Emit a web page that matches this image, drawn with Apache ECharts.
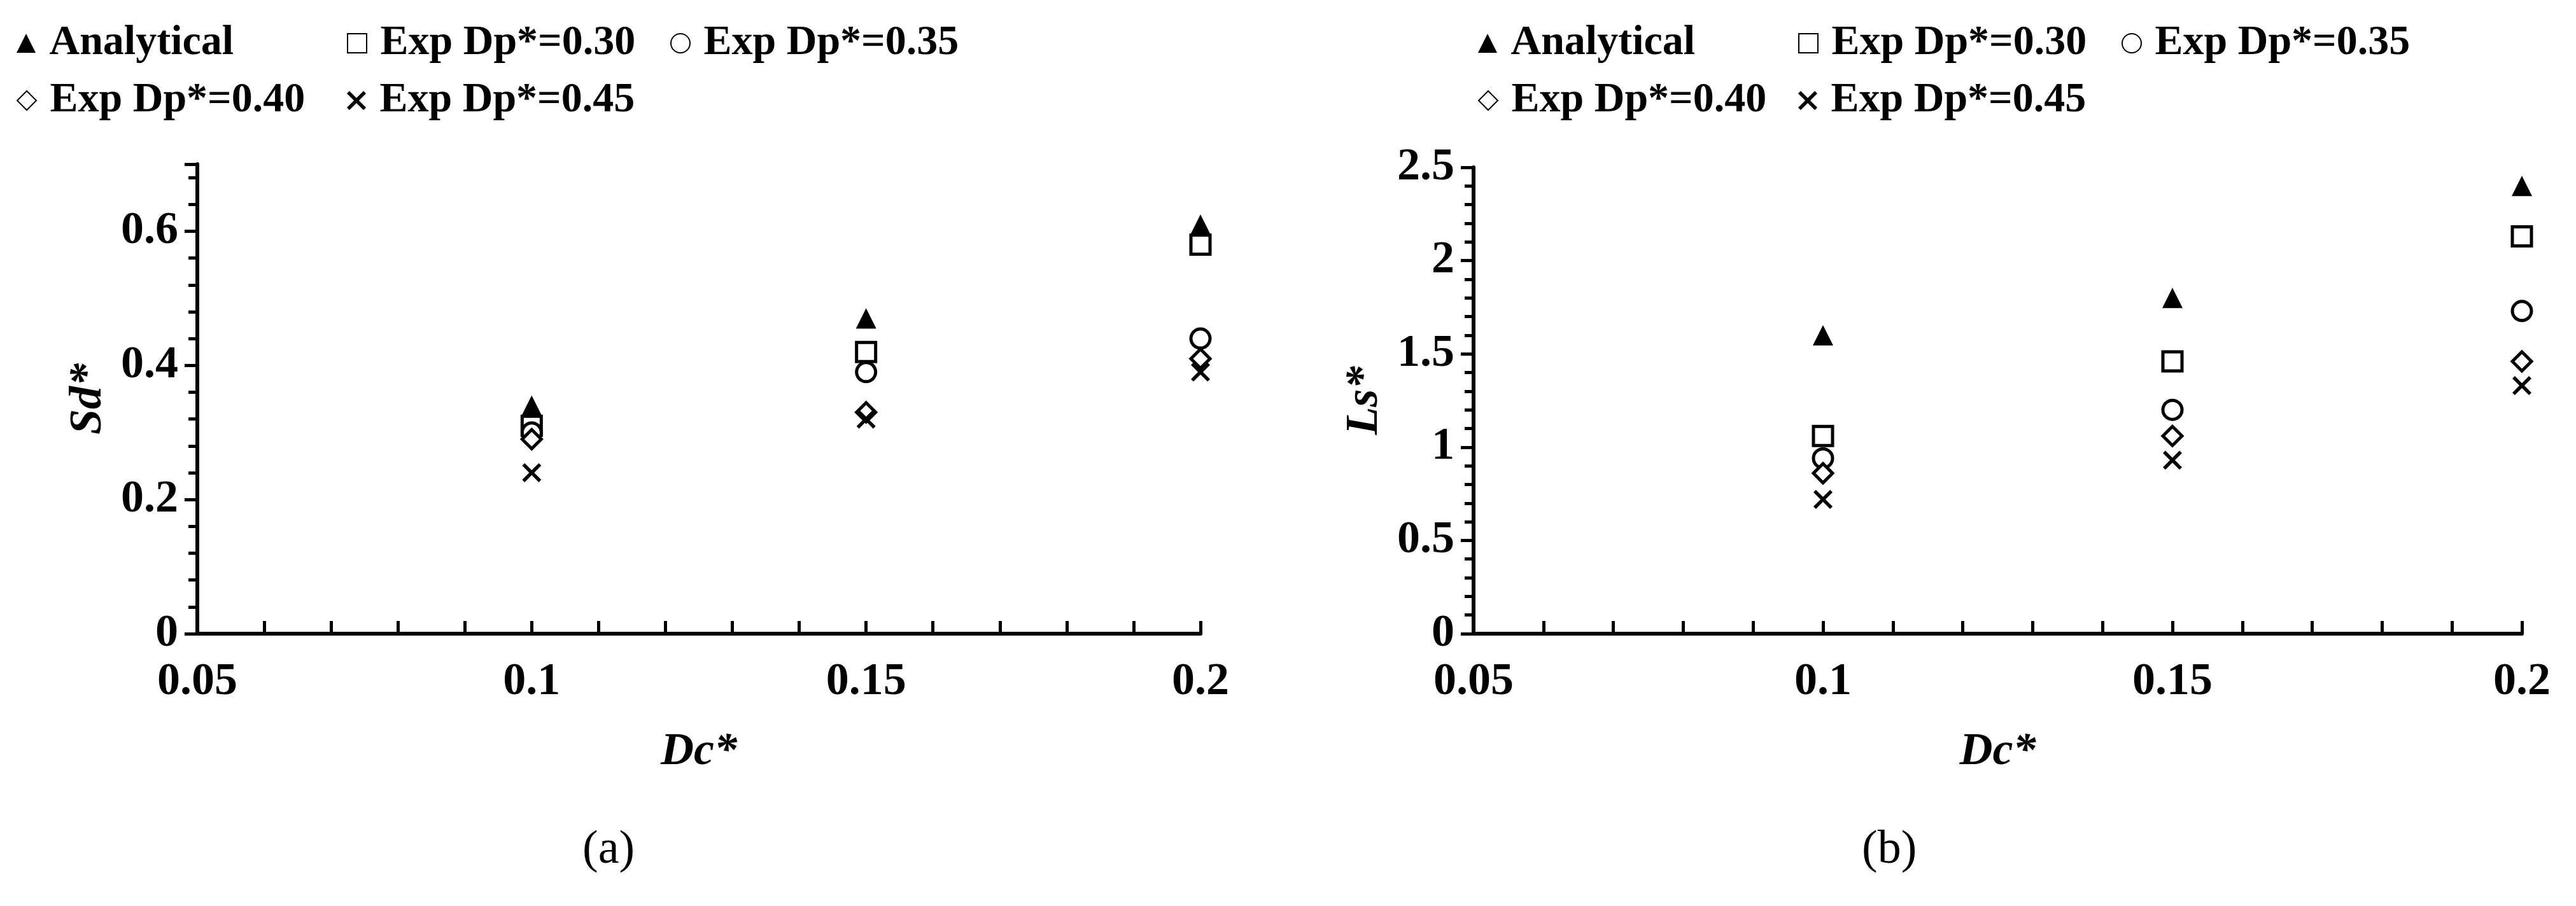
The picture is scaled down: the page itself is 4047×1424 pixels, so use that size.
<!DOCTYPE html>
<html style="height: 100%">
<head>
  <meta charset="utf-8">
  <title>Sd* and Ls* vs Dc*</title>
</head>
<body style="height: 100%; margin: 0; background: #fff">
  <div id="container" style="height: 100%"></div>
  <script src="https://cdn.jsdelivr.net/npm/echarts@6/dist/echarts.min.js"></script>
  <script>
    var dc = [0.1, 0.15, 0.2];
    var seriesNames = ['Analytical', 'Exp Dp*=0.30', 'Exp Dp*=0.35', 'Exp Dp*=0.40', 'Exp Dp*=0.45'];
    // panel (a) Sd*
    var sdAnalytical = [0.34, 0.47, 0.61];
    var sd030 = [0.31, 0.42, 0.58];
    var sd035 = [0.30, 0.39, 0.44];
    var sd040 = [0.29, 0.33, 0.41];
    var sd045 = [0.24, 0.32, 0.39];
    // panel (b) Ls*
    var lsAnalytical = [1.6, 1.8, 2.4];
    var ls030 = [1.06, 1.46, 2.13];
    var ls035 = [0.94, 1.2, 1.73];
    var ls040 = [0.86, 1.06, 1.46];
    var ls045 = [0.72, 0.93, 1.33];

    var font = 'Liberation Serif';
    var cross = 'path://M0,1.3L1.3,0L5,3.7L8.7,0L10,1.3L6.3,5L10,8.7L8.7,10L5,6.3L1.3,10L0,8.7L3.7,5Z';
    var symbols = ['triangle', 'rect', 'circle', 'diamond', cross];
    var fills = ['#000', '#fff', '#fff', '#fff', '#000'];
    var sizes = [32, 30, 30, 30, 30];

    function pairs(ys) {
      return dc.map(function (x, i) { return [x, ys[i]]; });
    }

    var dom = document.getElementById('container');
    var myChart = echarts.init(dom);

    var grids = [
      { left: 310, width: 1576, top: 258, bottom: 428 },
      { left: 2315, width: 1647, top: 263, bottom: 428 }
    ];
    var legendPos = [
      [[21, 30], [540, 30], [1048, 30], [21, 120], [540, 120]],
      [[2317, 30], [2820, 30], [3328, 30], [2317, 120], [2820, 120]]
    ];
    var panels = [
      [sdAnalytical, sd030, sd035, sd040, sd045],
      [lsAnalytical, ls030, ls035, ls040, ls045]
    ];

    var axisLine = { lineStyle: { color: '#000', width: 6 } };
    var labelStyle = { color: '#000', fontFamily: font, fontWeight: 'bold', fontSize: 72 };
    var nameStyle = { color: '#000', fontFamily: font, fontWeight: 'bold', fontStyle: 'italic', fontSize: 72 };

    var xAxes = [0, 1].map(function (g) {
      return {
        gridIndex: g, type: 'value', min: 0.05, max: 0.2, interval: 0.05,
        name: 'Dc*', nameLocation: 'middle', nameGap: 150, nameTextStyle: nameStyle,
        axisLine: axisLine,
        axisTick: { show: true, inside: true, length: 20, lineStyle: { color: '#000', width: 5 } },
        minorTick: { show: true, splitNumber: 5, length: 20, lineStyle: { color: '#000', width: 5 } },
        axisLabel: Object.assign({ margin: 40 }, labelStyle),
        splitLine: { show: false }
      };
    });

    var yAxes = [
      { max: 0.7, interval: 0.2, name: 'Sd*' },
      { max: 2.5, interval: 0.5, name: 'Ls*' }
    ].map(function (c, g) {
      return {
        gridIndex: g, type: 'value', min: 0, max: c.max, interval: c.interval,
        name: c.name, nameLocation: 'middle', nameGap: 135, nameRotate: 90, nameTextStyle: nameStyle,
        axisLine: axisLine,
        axisTick: { show: true, length: 20, lineStyle: { color: '#000', width: 5 } },
        minorTick: { show: true, splitNumber: 5, length: 14, lineStyle: { color: '#000', width: 5 } },
        axisLabel: Object.assign({ margin: 30, showMaxLabel: g === 1 }, labelStyle),
        splitLine: { show: false }
      };
    });

    var legends = [];
    var series = [];
    [0, 1].forEach(function (g) {
      seriesNames.forEach(function (name, k) {
        var id = name + (g ? ' ' : '');
        legends.push({
          left: legendPos[g][k][0], top: legendPos[g][k][1],
          data: [{ name: id, icon: symbols[k] }],
          itemWidth: 30, itemHeight: 30, itemGap: 10,
          formatter: function () { return ' ' + name; },
          textStyle: { color: '#000', fontFamily: font, fontWeight: 'bold', fontSize: 66 },
          selectedMode: false
        });
        series.push({
          name: id, type: 'scatter', xAxisIndex: g, yAxisIndex: g,
          data: pairs(panels[g][k]),
          symbol: symbols[k], symbolSize: sizes[k],
          itemStyle: { color: fills[k], borderColor: '#000', borderWidth: k === 0 || k === 4 ? 0 : 5, opacity: 1 }
        });
      });
    });

    var option = {
      backgroundColor: '#fff',
      animation: false,
      grid: grids,
      xAxis: xAxes,
      yAxis: yAxes,
      legend: legends,
      graphic: [
        { type: 'text', left: 915, top: 1300, style: { text: '(a)', font: '74px "Liberation Serif"', fill: '#000' } },
        { type: 'text', left: 2925, top: 1300, style: { text: '(b)', font: '74px "Liberation Serif"', fill: '#000' } }
      ],
      series: series
    };
    myChart.setOption(option, true);
  </script>
</body>
</html>
